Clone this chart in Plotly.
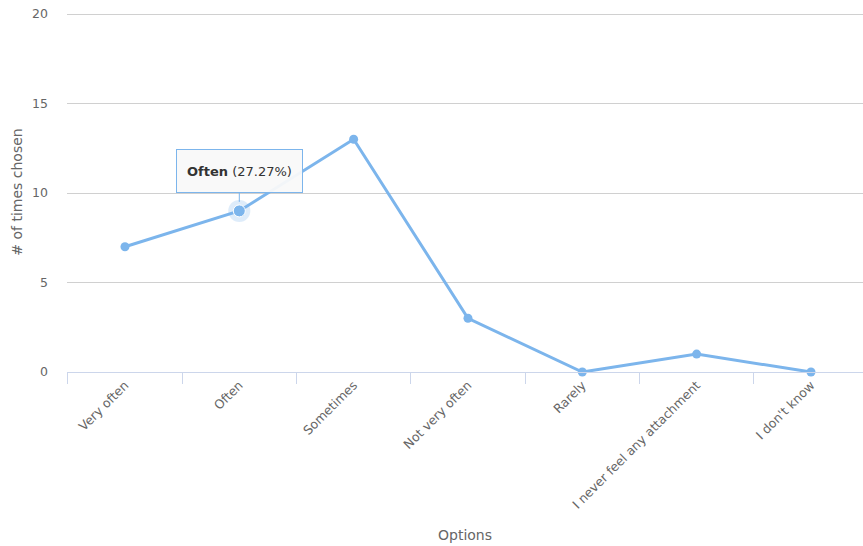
import plotly.graph_objects as go

categories = ["Very often", "Often", "Sometimes", "Not very often", "Rarely",
              "I never feel any attachment", "I don't know"]
counts = [7, 9, 13, 3, 0, 1, 0]
y_ticks = [0, 5, 10, 15, 20]
hover_index = 1
total = sum(counts)
hover_pct = counts[hover_index] / total * 100

LINE = "#7cb5ec"
TXT = "#666666"
FONT = "DejaVu Sans, Verdana, Arial, sans-serif"

fig = go.Figure()
fig.add_trace(go.Scatter(
    x=categories, y=counts, mode="lines+markers",
    line=dict(color=LINE, width=3),
    marker=dict(color=LINE, size=9),
    cliponaxis=False, showlegend=False, hoverinfo="skip",
))
# hover halo and enlarged point
fig.add_trace(go.Scatter(
    x=[categories[hover_index]], y=[counts[hover_index]], mode="markers",
    marker=dict(color="rgba(124,181,236,0.25)", size=22),
    cliponaxis=False, showlegend=False, hoverinfo="skip",
))
fig.add_trace(go.Scatter(
    x=[categories[hover_index]], y=[counts[hover_index]], mode="markers",
    marker=dict(color=LINE, size=12, line=dict(color="white", width=1)),
    cliponaxis=False, showlegend=False, hoverinfo="skip",
))

fig.add_annotation(
    x=categories[hover_index], y=counts[hover_index],
    text=f"<b>{categories[hover_index]}</b> ({hover_pct:.2f}%)",
    showarrow=True, ax=0, ay=-40, arrowhead=0, arrowwidth=1,
    arrowcolor=LINE, standoff=9,
    bgcolor="rgba(249,249,249,0.95)", bordercolor=LINE, borderwidth=1,
    width=123, height=40,
    font=dict(family=FONT, size=13, color="#333333"),
)

fig.update_layout(
    width=863, height=546,
    margin=dict(l=67, r=0, t=12, b=174),
    paper_bgcolor="white", plot_bgcolor="white",
    font=dict(family=FONT, color=TXT),
    xaxis=dict(
        range=[-0.507, 6.455],
        tickangle=-45, tickfont=dict(size=12.5, color=TXT),
        showgrid=False, zeroline=False,
        showline=True, linecolor="#ccd6eb", linewidth=1,
        ticks="outside", ticklen=11, tickcolor="#ccd6eb", tickson="boundaries",
        title=dict(text="Options", font=dict(size=14, color=TXT), standoff=19),
        automargin=False, fixedrange=True,
    ),
    yaxis=dict(
        range=[0, 20.112], tickvals=y_ticks,
        tickfont=dict(size=12.5, color=TXT),
        showgrid=True, gridcolor="#d0d0d0", gridwidth=1,
        zeroline=False, showline=False, ticks="", ticklabelstandoff=18,
        title=dict(text="# of times chosen", font=dict(size=14, color=TXT), standoff=6),
        automargin=False, fixedrange=True,
    ),
)

fig.write_html(
    "out.html",
    config={"displayModeBar": False},
    post_script="document.body.style.margin='0px';document.body.style.overflow='hidden';",
)
